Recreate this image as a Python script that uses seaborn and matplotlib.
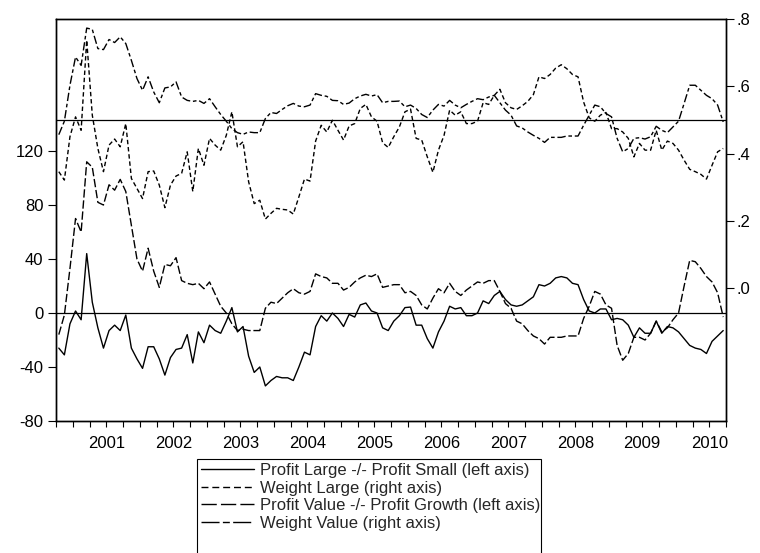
import numpy as np
import pandas as pd
import matplotlib
matplotlib.use("Agg")
import matplotlib.pyplot as plt
from matplotlib.lines import Line2D
from matplotlib.patches import Rectangle
from matplotlib.ticker import FixedLocator, FuncFormatter
import seaborn as sns

# ---------------- data (monthly, Oct 2000 - Sep 2010) ----------------
profit_large_small = [
    -26, -31, -8, 1.5, -5, 44, 8, -11, -26, -13, -9, -13, -1.5, -26, -34, -41, -25, -25, -34, -46,
    -33, -27, -26, -16, -37, -14, -22, -9, -13, -15, -6, 4, -14, -10, -32, -44, -40, -54, -50, -47,
    -48, -48, -50, -40, -29, -31, -10, -2, -6, 0, -4, -10, -1, -3, 6, 7.4, 1.5, 0, -11, -13,
    -6, -2, 4, 4.4, -9, -9, -19, -26, -14, -6, 5, 3, 4, -2, -2, 0, 9, 7, 13, 16,
    10, 6, 5, 6, 9, 12, 21, 20, 22, 26, 27, 26, 22, 21, 10, 1.5, 0, 3, 3, -5,
    -4, -5, -9, -18, -11, -15, -15, -6, -15, -10, -11, -14, -19, -24, -26, -27, -30, -21, -17, -13,
]
weight_large = [
    0.346, 0.321, 0.450, 0.509, 0.469, 0.737, 0.514, 0.415, 0.346, 0.425, 0.443, 0.420, 0.489, 0.326,
    0.296, 0.266, 0.346, 0.348, 0.306, 0.239, 0.306, 0.333, 0.341, 0.405, 0.287, 0.415, 0.365, 0.445,
    0.425, 0.410, 0.454, 0.524, 0.420, 0.435, 0.316, 0.251, 0.261, 0.205, 0.222, 0.237,
    0.234, 0.232, 0.220, 0.271, 0.324, 0.318, 0.437, 0.484, 0.464, 0.499, 0.469, 0.440, 0.482, 0.489,
    0.534, 0.546, 0.509, 0.496, 0.432, 0.418, 0.450, 0.479, 0.524, 0.532, 0.445, 0.440, 0.390, 0.344,
    0.410, 0.454, 0.529, 0.514, 0.524, 0.489, 0.489, 0.496, 0.551, 0.546, 0.573, 0.591,
    0.551, 0.536, 0.531, 0.542, 0.555, 0.575, 0.628, 0.623, 0.635, 0.654, 0.664, 0.652, 0.635, 0.628,
    0.553, 0.506, 0.496, 0.514, 0.522, 0.474, 0.474, 0.464, 0.445, 0.390, 0.430, 0.410, 0.410, 0.469,
    0.410, 0.437, 0.430, 0.410, 0.380, 0.353, 0.346, 0.338, 0.324, 0.365, 0.405, 0.415,
]
profit_value_growth = [
    -16, -1.5, 33, 70, 60, 112, 108, 82, 80, 95, 91, 99, 90, 65, 40, 31, 48, 31, 19, 36,
    35, 41, 24, 22, 21, 22, 18, 23, 14, 5, 0, -8, -13, -12, -13, -13, -13, 3.5, 8, 7,
    11, 15, 18, 15, 14, 16, 29, 27, 26, 22, 22, 17, 19, 23, 26, 28, 27, 29, 19, 20,
    21, 21, 15, 16, 13, 6, 3, 11, 18, 15, 22, 16, 13, 17, 20, 23, 22, 24, 24, 16,
    7, 3.5, -6, -8, -13, -17, -19, -23, -18, -18, -18, -17, -17, -17, -4, 5, 16, 14, 6, 3.5,
    -24, -35, -30, -18, -18, -20, -15, -6, -14, -11, -5, 0, 20, 39, 38, 33, 27, 23, 15, -3,
]
weight_value = [
    0.456, 0.496, 0.603, 0.687, 0.662, 0.773, 0.769, 0.712, 0.709, 0.739, 0.730, 0.747, 0.727, 0.677,
    0.623, 0.588, 0.628, 0.583, 0.551, 0.595, 0.598, 0.613, 0.568, 0.558, 0.555, 0.558, 0.549, 0.563,
    0.539, 0.516, 0.496, 0.474, 0.462, 0.457, 0.464, 0.462, 0.462, 0.504, 0.522, 0.519,
    0.531, 0.542, 0.549, 0.541, 0.539, 0.544, 0.578, 0.573, 0.570, 0.558, 0.557, 0.546, 0.550, 0.563,
    0.571, 0.576, 0.571, 0.575, 0.551, 0.555, 0.555, 0.556, 0.539, 0.544, 0.534, 0.516, 0.507, 0.529,
    0.546, 0.541, 0.558, 0.544, 0.536, 0.546, 0.555, 0.563, 0.560, 0.568, 0.573, 0.551,
    0.529, 0.514, 0.482, 0.476, 0.464, 0.454, 0.445, 0.433, 0.448, 0.448, 0.448, 0.452, 0.452, 0.452,
    0.484, 0.514, 0.544, 0.539, 0.519, 0.509, 0.445, 0.405, 0.415, 0.445, 0.447, 0.443, 0.450, 0.481,
    0.469, 0.462, 0.479, 0.496, 0.549, 0.603, 0.603, 0.588, 0.573, 0.563, 0.544, 0.494,
]
year_labels = [str(y) for y in range(2001, 2011)]
labels = [
    "Profit Large -/- Profit Small (left axis)",
    "Weight Large (right axis)",
    "Profit Value -/- Profit Growth (left axis)",
    "Weight Value (right axis)",
]

n = len(profit_large_small)
t = 2000.75 + (np.arange(n) + 0.5) / 12.0
df = pd.DataFrame({
    "t": t,
    "pls": profit_large_small,
    "wl": weight_large,
    "pvg": profit_value_growth,
    "wv": weight_value,
})

# ---------------- style ----------------
sns.set_theme(style="white")
plt.rcParams["font.family"] = ["Liberation Sans", "DejaVu Sans"]
plt.rcParams["axes.unicode_minus"] = False
FS = 12

W, H = 760, 553
fig = plt.figure(figsize=(W / 100, H / 100), dpi=100)
ax = fig.add_axes([56 / W, 1 - 421 / H, (726 - 56) / W, (421 - 19) / H])
ax2 = ax.twinx()

LW = 1.0
st_solid = "-"
st_short = (0, (3.2, 2.0))
st_long = (0, (6.0, 2.0))
st_ldsd = (0, (6.0, 2.0, 2.6, 2.0))

sns.lineplot(data=df, x="t", y="pls", ax=ax, color="black", lw=LW, linestyle=st_solid)
sns.lineplot(data=df, x="t", y="pvg", ax=ax, color="black", lw=LW, linestyle=st_long)
sns.lineplot(data=df, x="t", y="wl", ax=ax2, color="black", lw=LW, linestyle=st_short)
sns.lineplot(data=df, x="t", y="wv", ax=ax2, color="black", lw=LW, linestyle=st_ldsd)

ax.axhline(0, color="black", lw=0.9)
ax2.axhline(0.5, color="black", lw=0.9)

ax.set_xlim(2000.75, 2010.75)
ax.set_ylim(-80, 217.8)
ax2.set_ylim(-0.3955, 0.8)

ax.set_xlabel("")
ax.set_ylabel("")
ax2.set_ylabel("")

# y ticks
ax.yaxis.set_major_locator(FixedLocator([-80, -40, 0, 40, 80, 120]))
ax2.yaxis.set_major_locator(FixedLocator([0.0, 0.2, 0.4, 0.6, 0.8]))
ax2.yaxis.set_major_formatter(FuncFormatter(lambda v, p: ("%.1f" % v).lstrip("0") if v >= 0 else "%.1f" % v))

# x ticks: quarterly marks, year labels mid-year
ax.xaxis.remove_overlapping_locs = False
ax.xaxis.set_major_locator(FixedLocator(np.arange(2000.75, 2010.76, 0.25)))
ax.xaxis.set_major_formatter(FuncFormatter(lambda v, p: ""))
ax.xaxis.set_minor_locator(FixedLocator([y + 0.5 for y in range(2001, 2011)]))
ax.xaxis.set_minor_formatter(FuncFormatter(lambda v, p: year_labels[int(round(v - 0.5)) - 2001]))

for a in (ax, ax2):
    for s in a.spines.values():
        s.set_color("black")
        s.set_linewidth(1.0)
        s.set_visible(True)

ax.tick_params(axis="x", which="major", direction="out", length=4, width=0.8, color="black", bottom=True)
ax.tick_params(axis="x", which="minor", length=0, pad=11, labelsize=FS, labelcolor="black", bottom=True)
ax.tick_params(axis="y", which="major", direction="out", length=6, width=0.8, color="black",
               left=True, pad=3, labelsize=FS, labelcolor="black")
ax2.tick_params(axis="y", which="major", direction="out", length=6, width=0.8, color="black",
                right=True, pad=1.5, labelsize=FS, labelcolor="black")
ax.grid(False)
ax2.grid(False)

# legend (key box runs off the bottom edge, as in the original)
handles = [
    Line2D([], [], color="black", lw=LW, linestyle="-"),
    Line2D([], [], color="black", lw=LW, linestyle=(0, (5.0, 2.8))),
    Line2D([], [], color="black", lw=LW, linestyle=(0, (11.0, 3.0))),
    Line2D([], [], color="black", lw=LW, linestyle=(0, (13.0, 2.4, 5.0, 2.4))),
]
leg = fig.legend(handles, labels, loc="upper left", bbox_to_anchor=(197 / W, 1 - 459 / H),
                 frameon=False, fontsize=FS,
                 handlelength=3.2, handletextpad=0.3, labelspacing=0.15, borderpad=0.25,
                 borderaxespad=0)
box = Rectangle((197 / W, -0.05), (541 - 197) / W, (1 - 459 / H) + 0.05,
                transform=fig.transFigure, fill=False, edgecolor="black", lw=0.8)
fig.add_artist(box)

fig.savefig("out.png", dpi=100)
